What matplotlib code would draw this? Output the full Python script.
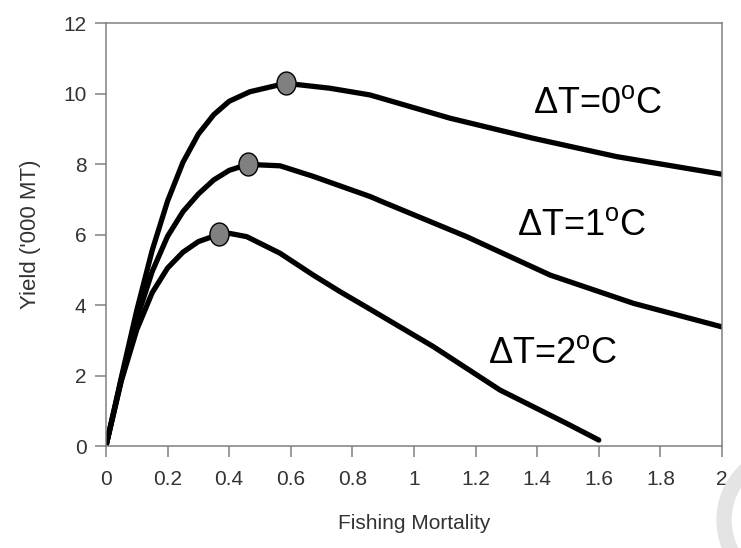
import matplotlib.pyplot as plt
from matplotlib.path import Path
from matplotlib.patches import Ellipse
import matplotlib.transforms as mtransforms

plt.rcParams['font.family'] = ['Liberation Sans', 'DejaVu Sans']
plt.rcParams['mathtext.default'] = 'regular'

# curves
f_0 = [0, 0.05, 0.1, 0.15, 0.2, 0.25, 0.3, 0.35, 0.4, 0.467, 0.584, 0.727, 0.857, 1.117, 1.387, 1.658, 2.0]
y_0 = [0, 1.95, 3.85, 5.55, 6.95, 8.05, 8.85, 9.4, 9.78, 10.05, 10.29, 10.15, 9.96, 9.30, 8.73, 8.21, 7.71]

f_1 = [0, 0.05, 0.1, 0.15, 0.2, 0.25, 0.3, 0.35, 0.4, 0.46, 0.565, 0.673, 0.76, 0.857, 0.9, 1.03, 1.171, 1.442, 1.712, 2.0]
y_1 = [0, 1.9, 3.6, 4.95, 5.95, 6.65, 7.15, 7.55, 7.82, 7.99, 7.95, 7.65, 7.38, 7.08, 6.92, 6.45, 5.94, 4.85, 4.05, 3.38]

f_2 = [0, 0.05, 0.1, 0.15, 0.2, 0.25, 0.3, 0.368, 0.403, 0.457, 0.565, 0.673, 0.76, 0.85, 1.063, 1.279, 1.496, 1.6]
y_2 = [0, 1.85, 3.3, 4.35, 5.05, 5.5, 5.8, 6.01, 6.03, 5.94, 5.47, 4.85, 4.38, 3.92, 2.82, 1.59, 0.64, 0.17]

peak_f = [0.584, 0.46, 0.368]
peak_y = [10.29, 7.99, 6.01]

labels = ['ΔT=0$^{o}$C', 'ΔT=1$^{o}$C', 'ΔT=2$^{o}$C']
label_f = [1.386, 1.333, 1.24]
label_y = [9.45, 5.99, 2.35]

xticks = [0, 0.2, 0.4, 0.6, 0.8, 1, 1.2, 1.4, 1.6, 1.8, 2]
xticklabels = ['0', '0.2', '0.4', '0.6', '0.8', '1', '1.2', '1.4', '1.6', '1.8', '2']
yticks = [0, 2, 4, 6, 8, 10, 12]

fig = plt.figure(figsize=(7.41, 5.48), dpi=100)
ax = fig.add_axes([0.143, 0.186, 0.8314, 0.772])

for f, y in [(f_0, y_0), (f_1, y_1), (f_2, y_2)]:
    ax.plot(f, y, color='black', lw=3.8, solid_capstyle='round', solid_joinstyle='round')

# slightly tall circle, like the picture
oval = Path.unit_circle().transformed(mtransforms.Affine2D().scale(1, 1.2))
ax.plot(peak_f, peak_y, ls='none', marker=oval, ms=16.5, mfc='#808080', mec='black', mew=1.0, zorder=5)

for txt, fx, fy in zip(labels, label_f, label_y):
    ax.text(fx, fy, txt, fontsize=26, color='black', ha='left', va='baseline')

ax.set_xlim(0, 2)
ax.set_ylim(0, 12)
ax.set_xticks(xticks)
ax.set_xticklabels(xticklabels)
ax.set_yticks(yticks)

for s in ax.spines.values():
    s.set_color('#808080')
    s.set_linewidth(1.1)
ax.tick_params(direction='out', length=8, width=1.1, color='#808080', labelsize=15, labelcolor='#333333')
ax.tick_params(axis='x', pad=9)
ax.tick_params(axis='y', pad=6)

ax.set_xlabel('Fishing Mortality', fontsize=15, color='#333333', labelpad=18)
ax.set_ylabel("Yield ('000 MT)", fontsize=16, color='#333333', labelpad=16)

# faint watermark arc in the corner
fig.patches.append(Ellipse((792 / 741, 1 - 520 / 548), 2 * 68 / 741, 2 * 68 / 548,
                           transform=fig.transFigure, fill=False, ec='#e4e4e4', lw=11))

fig.savefig('out.png', dpi=100)
